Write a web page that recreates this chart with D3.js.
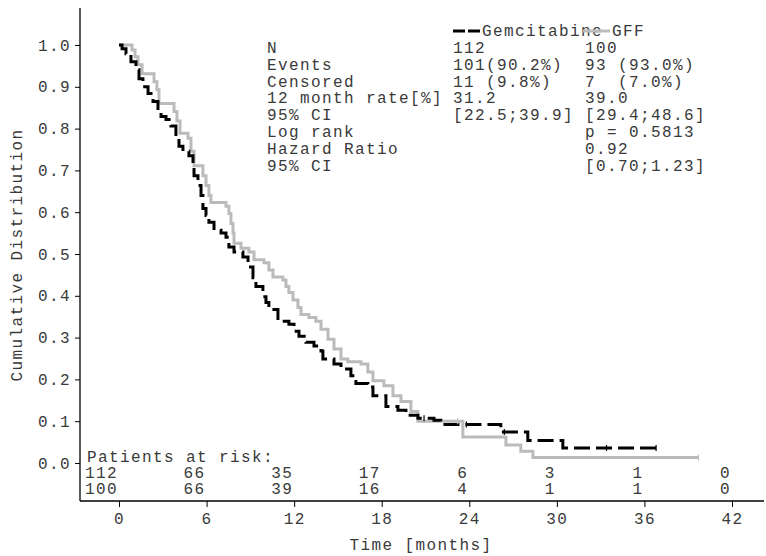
<!DOCTYPE html>
<html lang="en">
<head>
<meta charset="UTF-8">
<title>Kaplan-Meier</title>
<style>
  body { margin: 0; background: #fff; }
  text { font-family: "Courier New", "Liberation Mono", monospace; fill: #3a3a3a; }
  .lbl { font-size: 16px; letter-spacing: 1.4px; white-space: pre; }
  .axis text { font-size: 16px; letter-spacing: 1.4px; fill: #3a3a3a; }
  .axis line, .axis path { stroke: #000; }
</style>
<script src="https://d3js.org/d3.v7.min.js"></script>
</head>
<body>
<svg id="chart"></svg>
<script>
// step times (months) and survival after each step
var gemTimes = [0.21,0.48,0.82,1.16,1.37,1.64,1.99,2.33,2.67,2.88,3.22,3.56,3.90,4.11,4.38,4.79,5.07,5.14,5.41,5.62,5.75,5.96,6.16,6.51,6.99,7.33,7.53,7.88,8.49,8.84,9.18,9.38,9.86,10.07,10.27,10.89,11.64,11.99,12.33,12.81,13.36,13.84,13.97,14.73,15.21,15.89,16.23,17.05,17.40,18.29,19.11,19.66,20.48,21.58,22.05,26.16,28.01,30.41];
var gemSurv  = [0.991,0.979,0.960,0.941,0.919,0.900,0.884,0.865,0.848,0.829,0.822,0.806,0.782,0.758,0.746,0.735,0.711,0.687,0.664,0.640,0.609,0.592,0.576,0.557,0.550,0.540,0.517,0.505,0.493,0.469,0.443,0.422,0.398,0.384,0.367,0.339,0.332,0.315,0.303,0.289,0.280,0.268,0.249,0.237,0.225,0.209,0.190,0.182,0.161,0.135,0.126,0.114,0.107,0.102,0.092,0.074,0.054,0.036];
var gemEnd = 36.8;
var gemCensor = [20.9, 23.8, 26.4, 33.4, 36.8];

var gffTimes = [0.89,1.10,1.30,1.58,2.40,2.60,2.74,3.77,3.97,4.18,4.73,4.93,5.14,5.75,5.96,6.16,6.30,7.33,7.53,7.67,7.81,7.88,8.36,8.90,9.25,9.93,10.27,10.55,11.23,11.44,11.64,11.92,12.26,12.47,13.01,13.49,13.84,14.32,14.73,15.21,15.68,16.58,17.05,17.40,18.15,18.77,19.32,20.00,20.48,23.56,26.51,27.53,28.36];
var gffSurv  = [0.988,0.972,0.953,0.931,0.912,0.893,0.860,0.841,0.818,0.789,0.777,0.746,0.711,0.687,0.664,0.640,0.623,0.614,0.597,0.573,0.550,0.526,0.514,0.505,0.486,0.479,0.462,0.445,0.438,0.422,0.408,0.390,0.372,0.355,0.348,0.339,0.320,0.296,0.273,0.249,0.242,0.237,0.218,0.197,0.185,0.161,0.147,0.123,0.100,0.062,0.043,0.028,0.013];
var gffEnd = 39.7;
var gffCensor = [23.2, 39.7];

var riskTimes = [0, 6, 12, 18, 24, 30, 36, 42];
var gemRisk = [112, 66, 35, 17, 6, 3, 1, 0];
var gffRisk = [100, 66, 39, 16, 4, 1, 1, 0];

var seriesNames = ["Gemcitabine", "GFF"];
var tableLabels = ["N", "Events", "Censored", "12 month rate[%]", "95% CI", "Log rank", "Hazard Ratio", "95% CI"];
var gemColumn = ["112", "101(90.2%)", "11 (9.8%)", "31.2", "[22.5;39.9]", "", "", ""];
var gffColumn = ["100", "93 (93.0%)", "7  (7.0%)", "39.0", "[29.4;48.6]", "p = 0.5813", "0.92", "[0.70;1.23]"];

var xTicks = [0, 6, 12, 18, 24, 30, 36, 42];
var yTicks = [0, 0.1, 0.2, 0.3, 0.4, 0.5, 0.6, 0.7, 0.8, 0.9, 1.0];

var W = 766, H = 556;
var svg = d3.select("#chart").attr("width", W).attr("height", H);

var x = d3.scaleLinear().domain([0, 42]).range([119, 732]);
var y = d3.scaleLinear().domain([0, 1]).range([463, 45]);
var axisY = 501, axisX = 80;

// axes
svg.append("line").attr("x1", axisX).attr("x2", axisX).attr("y1", 8).attr("y2", axisY)
  .attr("stroke", "#000").attr("stroke-width", 1.3);
svg.append("line").attr("x1", axisX).attr("x2", 764).attr("y1", axisY).attr("y2", axisY)
  .attr("stroke", "#000").attr("stroke-width", 1.3);

var gy = svg.append("g").attr("class", "axis").attr("transform", "translate(" + axisX + ",0)")
  .call(d3.axisLeft(y).tickValues(yTicks).tickFormat(d3.format(".1f")).tickSize(5).tickPadding(4));
gy.select(".domain").remove();

var gx = svg.append("g").attr("class", "axis").attr("transform", "translate(0," + axisY + ")")
  .call(d3.axisBottom(x).tickValues(xTicks).tickSize(6).tickPadding(6));
gx.select(".domain").remove();

svg.append("text").attr("class", "lbl").attr("text-anchor", "middle")
  .attr("transform", "translate(22,255) rotate(-90)").text("Cumulative Distribution");
svg.append("text").attr("class", "lbl").attr("text-anchor", "middle")
  .attr("x", 421).attr("y", 550).text("Time [months]");

// curves
function steps(times, surv, end) {
  var pts = [[0, 1]];
  times.forEach(function(t, i) { pts.push([t, surv[i]]); });
  pts.push([end, surv[surv.length - 1]]);
  return pts;
}
function survAt(times, surv, t) {
  var v = 1;
  times.forEach(function(s, i) { if (s <= t) v = surv[i]; });
  return v;
}
var line = d3.line().curve(d3.curveStepAfter)
  .x(function(d) { return x(d[0]); }).y(function(d) { return y(d[1]); });

svg.append("path").datum(steps(gffTimes, gffSurv, gffEnd)).attr("d", line)
  .attr("fill", "none").attr("stroke", "#bbb").attr("stroke-width", 3);
svg.append("path").datum(steps(gemTimes, gemSurv, gemEnd)).attr("d", line)
  .attr("fill", "none").attr("stroke", "#000").attr("stroke-width", 3)
  .attr("stroke-dasharray", "16,6");

svg.selectAll(".cg").data(gffCensor).enter().append("line")
  .attr("x1", function(d) { return x(d); }).attr("x2", function(d) { return x(d); })
  .attr("y1", function(d) { return y(survAt(gffTimes, gffSurv, d)) - 3; })
  .attr("y2", function(d) { return y(survAt(gffTimes, gffSurv, d)) + 3; })
  .attr("stroke", "#bbb").attr("stroke-width", 1.2);
svg.selectAll(".cb").data(gemCensor).enter().append("line")
  .attr("x1", function(d) { return x(d); }).attr("x2", function(d) { return x(d); })
  .attr("y1", function(d) { return y(survAt(gemTimes, gemSurv, d)) - 3; })
  .attr("y2", function(d) { return y(survAt(gemTimes, gemSurv, d)) + 3; })
  .attr("stroke", "#000").attr("stroke-width", 1.2);

// legend
var legY = 31;
svg.append("line").attr("x1", 453).attr("x2", 480).attr("y1", legY).attr("y2", legY)
  .attr("stroke", "#000").attr("stroke-width", 3).attr("stroke-dasharray", "12,3");
svg.append("text").attr("class", "lbl").attr("x", 482).attr("y", legY + 5).text(seriesNames[0]);
svg.append("line").attr("x1", 583).attr("x2", 610).attr("y1", legY).attr("y2", legY)
  .attr("stroke", "#bbb").attr("stroke-width", 3);
svg.append("text").attr("class", "lbl").attr("x", 612).attr("y", legY + 5).text(seriesNames[1]);

// stats table
var rowH = 16.8, row0 = 53;
tableLabels.forEach(function(l, i) {
  svg.append("text").attr("class", "lbl").attr("x", 267).attr("y", row0 + i * rowH).text(l);
  svg.append("text").attr("class", "lbl").attr("x", 453).attr("y", row0 + i * rowH).text(gemColumn[i]);
  svg.append("text").attr("class", "lbl").attr("x", 585).attr("y", row0 + i * rowH).text(gffColumn[i]);
});

// patients at risk
svg.append("text").attr("class", "lbl").attr("x", 87).attr("y", 462).text("Patients at risk:");
svg.selectAll(".r1").data(riskTimes).enter().append("text").attr("class", "lbl")
  .attr("text-anchor", "end").attr("x", function(d) { return x(d) - 1; }).attr("y", 478)
  .text(function(d, i) { return gemRisk[i]; });
svg.selectAll(".r2").data(riskTimes).enter().append("text").attr("class", "lbl")
  .attr("text-anchor", "end").attr("x", function(d) { return x(d) - 1; }).attr("y", 494)
  .text(function(d, i) { return gffRisk[i]; });
</script>
</body>
</html>
